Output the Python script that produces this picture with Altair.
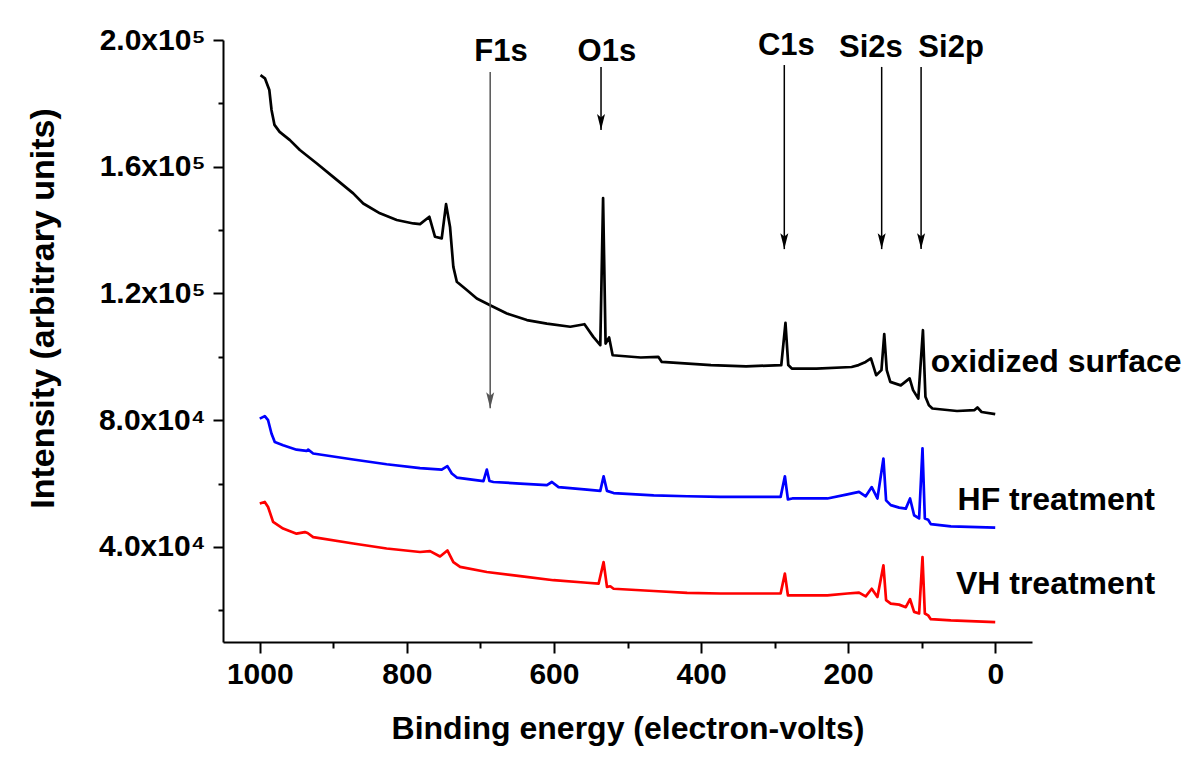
import altair as alt
import pandas as pd

FONT = "Liberation Sans"

# ---- spectra (binding energy in eV, intensity in arbitrary units) ----
ox_energy = [999, 993, 987, 984, 980, 973, 959, 945.5, 922.8, 900.2,
             872.9, 859.3, 836.6, 813.8, 791.2, 782.1, 769.4, 761.7, 752.6, 746.7,
             741.3, 736.8, 732.1, 718.5, 704.9, 686.8, 664.0, 636.8, 609.6, 577.8,
             558.5, 546.5, 537.0, 533.2, 529.8, 525.0, 520.2, 482.0, 458.1, 453.4,
             386.5, 338.7, 290.9, 285.2, 281.4, 276.6, 243.1, 195.3, 185.8, 176.2,
             169.0, 161.9, 154.7, 150.9, 147.5, 142.7, 128.4, 116.4, 111.7, 104.6,
             98.3, 94.9, 90.2, 85.4, 52.0, 28.1, 24.2, 18.5, 0]
ox_counts = [188900, 187900, 184200, 177900, 173200, 171000, 168400, 165300, 161100, 156800,
             151600, 148400, 145300, 143200, 142100, 141900, 144200, 137900, 137400, 148200,
             141000, 128400, 123700, 121100, 118400, 116300, 113700, 111600, 110500, 109500,
             110300, 106300, 103700, 150100, 104200, 106100, 100500, 99800, 100000, 98400,
             97400, 97000, 97400, 110700, 97400, 96300, 96300, 96800, 97400, 98400,
             99500, 94200, 95800, 107200, 95800, 92100, 91000, 93200, 89500, 86800,
             108400, 87400, 84700, 83700, 82900, 83200, 84000, 82600, 81900]

hf_energy = [1000, 993.2, 988.7, 984.1, 979.6, 968.3, 950.0, 936.4, 934.2, 927.4,
             872.9, 827.5, 782.1, 752.6, 744.9, 738.9, 732.1, 695.9, 691.3, 687.7,
             682.3, 645.9, 609.6, 602.8, 593.8, 555.1, 537.0, 532.5, 527.9, 518.9,
             464.4, 418.9, 373.6, 291.8, 286.0, 281.9, 275.9, 228.2, 201.0, 185.2,
             176.1, 167.9, 160.2, 152.0, 148.4, 142.0, 130.7, 121.6, 115.8, 110.3,
             103.5, 98.9, 95.7, 91.2, 87.6, 60.3, 0]
hf_counts = [80500, 81300, 80000, 75800, 73100, 72100, 70700, 70300, 70700, 69500,
             67600, 66100, 64900, 64400, 65500, 63200, 61900, 60800, 64400, 60800,
             60500, 60000, 59500, 60500, 58900, 58100, 57700, 62300, 57700, 57000,
             56300, 56000, 55800, 55800, 62300, 55000, 55300, 55300, 56600, 57400,
             56000, 58900, 55300, 67900, 54700, 53200, 52400, 52100, 55300, 50000,
             49000, 71100, 49000, 48600, 47200, 46500, 46100]

vh_energy = [1000, 993.2, 988.7, 981.9, 968.3, 950.0, 938.7, 935.0, 927.4, 872.9,
             827.5, 782.1, 768.5, 754.9, 744.9, 736.8, 727.6, 691.3, 645.9, 600.6,
             555.1, 539.3, 532.5, 527.9, 523.4, 518.9, 464.4, 418.9, 373.6, 291.8,
             286.0, 281.9, 228.2, 201.0, 185.2, 176.1, 167.9, 160.2, 152.0, 148.4,
             142.0, 130.7, 121.6, 115.8, 110.3, 103.5, 98.9, 95.7, 91.2, 87.6,
             60.3, 0]
vh_counts = [53700, 54200, 52600, 47900, 45800, 44200, 44700, 44400, 43100, 41100,
             39500, 38400, 38700, 37000, 38900, 35200, 33700, 32100, 30800, 29500,
             28700, 28400, 35200, 27400, 27600, 26800, 26100, 25500, 25300, 25300,
             31600, 24700, 24700, 25300, 25600, 24400, 26800, 24200, 34200, 23200,
             22100, 21800, 21000, 23500, 19500, 19000, 36800, 19000, 18400, 17200,
             16800, 16300]

series_names = ["oxidized surface", "HF treatment", "VH treatment"]
series_colors = ["#000000", "#0000ff", "#ff0000"]
series_label_energy = [87.6, 51.2, 53.5]
series_label_counts = [98300, 54700, 28400]

# ---- peak annotations ----
peak_names = ["F1s", "O1s", "C1s", "Si2s", "Si2p"]
peak_label_energy = [672, 528, 284, 169, 60]
peak_label_counts = [196200, 196200, 198100, 197500, 197500]
arrow_energy = [686.7, 536, 286.8, 154.4, 100.8]
arrow_top = [189900, 191500, 192100, 191500, 191500]
arrow_tip = [83800, 171600, 134000, 134000, 134000]
arrow_colors = ["#555555", "#000000", "#000000", "#000000", "#000000"]

# ---- axes ----
x_domain = [1050, -50]
y_domain = [10000, 200000]
x_major = [1000, 800, 600, 400, 200, 0]
x_minor = [900, 700, 500, 300, 100]
y_major = [40000, 80000, 120000, 160000, 200000]
y_major_labels = ["4.0x10⁴", "8.0x10⁴", "1.2x10⁵", "1.6x10⁵", "2.0x10⁵"]
y_minor = [20000, 60000, 100000, 140000, 180000]

rows = []
for name, en, ct in zip(series_names, [ox_energy, hf_energy, vh_energy],
                        [ox_counts, hf_counts, vh_counts]):
    for i, (e, c) in enumerate(zip(en, ct)):
        rows.append({"energy": e, "counts": c, "series": name, "idx": i})
spectra = pd.DataFrame(rows)

labels_df = pd.DataFrame({"series": series_names, "energy": series_label_energy,
                          "counts": series_label_counts})
peaks_df = pd.DataFrame({"name": peak_names, "lx": peak_label_energy, "ly": peak_label_counts,
                         "ax": arrow_energy, "top": arrow_top, "tip": arrow_tip,
                         "col": arrow_colors})

label_expr = " : ".join(
    f"datum.value == {v} ? '{l}'" for v, l in zip(y_major, y_major_labels)) + " : ''"

xs = alt.Scale(domain=x_domain, nice=False, zero=False)
ys = alt.Scale(domain=y_domain, nice=False, zero=False)
cs = alt.Scale(domain=series_names, range=series_colors)

common_axis = dict(domainColor="black", domainWidth=2, tickColor="black", tickWidth=2,
                   labelColor="black", labelFont=FONT, labelFontSize=30, labelFontWeight="bold",
                   titleFont=FONT, titleFontWeight="bold", titleColor="black",
                   grid=False)

lines = alt.Chart(spectra).mark_line(strokeWidth=2.7, strokeJoin="round").encode(
    x=alt.X("energy:Q", scale=xs,
            axis=alt.Axis(values=x_major, tickSize=11, labelPadding=6, format="d",
                          title="Binding energy (electron-volts)", titlePadding=24,
                          titleFontSize=32, orient="bottom", **common_axis)),
    y=alt.Y("counts:Q", scale=ys,
            axis=alt.Axis(values=y_major, tickSize=10, labelPadding=8, labelExpr=label_expr,
                          title="Intensity (arbitrary units)", titleFontSize=34,
                          titleX=-170, titleY=268, titleBaseline="alphabetic",
                          orient="left", **common_axis)),
    color=alt.Color("series:N", scale=cs, legend=None),
    detail="series:N",
    order="idx:Q",
)

minor = alt.Chart(spectra).mark_line(opacity=0).encode(
    x=alt.X("energy:Q", scale=xs,
            axis=alt.Axis(values=x_minor, tickSize=6, labels=False, title=None,
                          orient="bottom", domain=False, tickColor="black", tickWidth=2, grid=False)),
    y=alt.Y("counts:Q", scale=ys,
            axis=alt.Axis(values=y_minor, tickSize=5, labels=False, title=None,
                          orient="left", domain=False, tickColor="black", tickWidth=2, grid=False)),
    detail="series:N",
)

series_text = alt.Chart(labels_df).mark_text(
    align="left", baseline="middle", font=FONT, fontSize=32, fontWeight="bold", color="black"
).encode(
    x=alt.X("energy:Q", scale=xs, axis=None),
    y=alt.Y("counts:Q", scale=ys, axis=None),
    text="series:N",
)

arrow_lines = alt.Chart(peaks_df).mark_rule(strokeWidth=1.5).encode(
    x=alt.X("ax:Q", scale=xs, axis=None),
    y=alt.Y("top:Q", scale=ys, axis=None),
    y2="tip:Q",
    color=alt.Color("col:N", scale=None),
)

arrow_heads = alt.Chart(peaks_df).mark_point(
    shape="M-0.7,-2.8L0,-2.2L0.7,-2.8L0,0Z", filled=True, size=130, opacity=1, strokeWidth=0
).encode(
    x=alt.X("ax:Q", scale=xs, axis=None),
    y=alt.Y("tip:Q", scale=ys, axis=None),
    color=alt.Color("col:N", scale=None),
)

peak_text = alt.Chart(peaks_df).mark_text(
    align="center", baseline="middle", font=FONT, fontSize=31, fontWeight="bold", color="black"
).encode(
    x=alt.X("lx:Q", scale=xs, axis=None),
    y=alt.Y("ly:Q", scale=ys, axis=None),
    text="name:N",
)

chart = alt.layer(lines, minor, series_text, arrow_lines, arrow_heads, peak_text).resolve_axis(
    x="independent", y="independent"
).resolve_scale(color="independent").properties(
    width=809, height=602,
    padding={"left": 215, "top": 32, "right": 160, "bottom": 110},
    autosize=alt.AutoSizeParams(type="none"),
    background="white",
).configure_view(stroke=None)

chart.save("out.html", embed_options={"renderer": "svg", "actions": False})
